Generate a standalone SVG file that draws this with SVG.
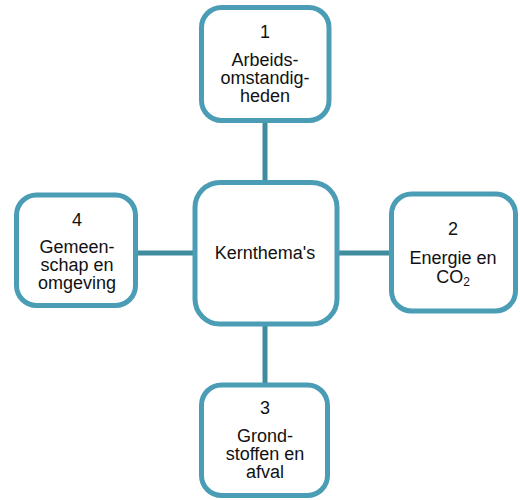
<svg xmlns="http://www.w3.org/2000/svg" width="520" height="500" viewBox="0 0 520 500">
<style>
.box{fill:#fff;stroke:#4A9DB5;stroke-width:5}
.con{stroke:#3F8C9E;stroke-width:5;fill:none}
text{font-family:"Liberation Sans",Arial,sans-serif;font-size:18px;fill:#111;text-anchor:middle}
</style>
<rect width="520" height="500" fill="#fff"/>
<g id="connectors">
<line class="con" x1="265" y1="120" x2="265" y2="183"/>
<line class="con" x1="265" y1="324" x2="265" y2="386"/>
<line class="con" x1="135" y1="253" x2="196" y2="253"/>
<line class="con" x1="336" y1="253" x2="392" y2="253"/>
</g>
<g id="center">
<rect class="box" x="195" y="182.5" width="142" height="141.5" rx="25"/>
<text x="265" y="259">Kernthema's</text>
</g>
<g id="node1">
<rect class="box" x="201.5" y="7.5" width="127.5" height="113" rx="20"/>
<text x="265" y="38">1</text>
<text x="265" y="66">Arbeids-</text>
<text x="265" y="84">omstandig-</text>
<text x="265" y="102">heden</text>
</g>
<g id="node2">
<rect class="box" x="391.5" y="194" width="124" height="117" rx="20"/>
<text x="453" y="235">2</text>
<text x="453" y="264">Energie en</text>
<text x="453" y="283">CO<tspan font-size="12" dy="3">2</tspan></text>
</g>
<g id="node3">
<rect class="box" x="201.5" y="385" width="126" height="110.5" rx="20"/>
<text x="265" y="414">3</text>
<text x="265" y="442">Grond-</text>
<text x="265" y="460">stoffen en</text>
<text x="265" y="478">afval</text>
</g>
<g id="node4">
<rect class="box" x="16.5" y="195" width="119" height="110.5" rx="20"/>
<text x="77" y="226">4</text>
<text x="77" y="253">Gemeen-</text>
<text x="77" y="271">schap en</text>
<text x="77" y="289">omgeving</text>
</g>
</svg>
